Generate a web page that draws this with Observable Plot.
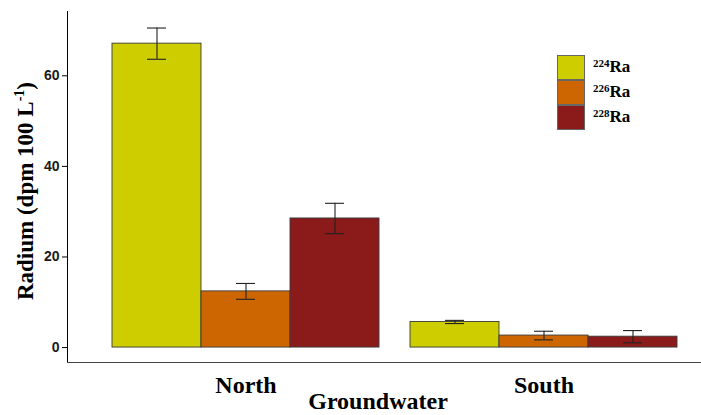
<!DOCTYPE html>
<html>
<head>
<meta charset="utf-8">
<script src="https://cdn.jsdelivr.net/npm/d3@7"></script>
<script src="https://cdn.jsdelivr.net/npm/@observablehq/plot@0.6"></script>
<style>
  body { margin: 0; background: #fff; }
  #wrap { position: relative; width: 701px; height: 415px; overflow: hidden; background: #fff; }
  #wrap svg { position: absolute; left: 0; top: 0; }
  g[aria-label="y-axis tick label"] { font-family: "Liberation Sans", Arial, sans-serif; font-weight: bold; font-size: 14px; fill: #1a1a1a; }
  g[aria-label="y-axis tick"] { stroke: #555; }
  .ytitle { position: absolute; left: 26px; top: 191px; transform: translate(-50%, -50%) rotate(-90deg);
            white-space: nowrap; font: bold 23px "Liberation Serif", "Times New Roman", serif; color: #000; }
  .ytitle sup { font-size: 14px; vertical-align: 9px; line-height: 0; }
  .xtitle { position: absolute; left: 378px; top: 389px; transform: translateX(-50%);
            white-space: nowrap; font: bold 24px/1 "Liberation Serif", "Times New Roman", serif; color: #000; }
  .legend { position: absolute; left: 557px; top: 55px; }
  .legend .row { position: relative; height: 25px; }
  .legend .key { position: absolute; left: 0; top: 0; width: 28px; height: 25px; box-sizing: border-box; border: 1px solid #666; }
  .legend .lab { position: absolute; left: 36px; top: 3px; white-space: nowrap; font: bold 17px/1 "Liberation Serif", "Times New Roman", serif; color: #000; }
  .legend .lab sup { font-size: 11px; vertical-align: 5px; line-height: 0; }
</style>
</head>
<body>
<div id="wrap"></div>
<script>
// ---- data ----
const groups = ["North", "South"];
const isotopes = ["224Ra", "226Ra", "228Ra"];
const isotopeMass = ["224", "226", "228"];
const northMean = [67.1, 12.4, 28.5];
const northErr = [3.45, 1.75, 3.35];
const southMean = [5.65, 2.65, 2.4];
const southErr = [0.35, 0.95, 1.35];
const colors = ["#CDCD00", "#CD6600", "#8B1A1A"];
const yTicks = [0, 20, 40, 60];
const yDomain = [-3.3, 74.2];
const yLabelText = "Radium (dpm 100 L";
const xLabelText = "Groundwater";

const rows = [];
isotopes.forEach((iso, i) => {
  rows.push({group: groups[0], isotope: iso, value: northMean[i], lo: northMean[i] - northErr[i], hi: northMean[i] + northErr[i]});
  rows.push({group: groups[1], isotope: iso, value: southMean[i], lo: southMean[i] - southErr[i], hi: southMean[i] + southErr[i]});
});

const chart = Plot.plot({
  width: 701,
  height: 415,
  marginTop: 11,
  marginBottom: 53,
  marginLeft: 67,
  marginRight: 38,
  style: {background: "white", overflow: "visible"},
  fx: {domain: groups, padding: 0, axis: null},
  x: {domain: isotopes, range: [111, 380], padding: 0, axis: null},
  y: {domain: yDomain, ticks: yTicks, tickSize: 5, tickPadding: 3, label: null, line: true},
  color: {domain: isotopes, range: colors},
  marks: [
    Plot.barY(rows, {fx: "group", x: "isotope", y: "value", fill: "isotope", stroke: "#3a3a3a", strokeWidth: 0.9}),
    Plot.ruleX(rows, {fx: "group", x: "isotope", y1: "lo", y2: "hi", stroke: "#222", strokeWidth: 1.1}),
    Plot.tickY(rows, {fx: "group", x: "isotope", y: "hi", stroke: "#222", strokeWidth: 1.1, insetLeft: 35, insetRight: 35}),
    Plot.tickY(rows, {fx: "group", x: "isotope", y: "lo", stroke: "#222", strokeWidth: 1.1, insetLeft: 35, insetRight: 35}),
    Plot.text(groups, {fx: d => d, x: () => isotopes[1], text: d => d, frameAnchor: "bottom", lineAnchor: "top", dy: 13,
      fontFamily: "Liberation Serif, Times New Roman, serif", fontWeight: "bold", fontSize: 24, fill: "#000"}),
    Plot.ruleY([yDomain[0]], {stroke: "#444", strokeWidth: 1.2, insetRight: -38})
  ]
});

const wrap = document.getElementById("wrap");
wrap.appendChild(chart);

const yt = document.createElement("div");
yt.className = "ytitle";
yt.innerHTML = yLabelText + "<sup>-1</sup>)";
wrap.appendChild(yt);

const xt = document.createElement("div");
xt.className = "xtitle";
xt.textContent = xLabelText;
wrap.appendChild(xt);

const legend = document.createElement("div");
legend.className = "legend";
isotopes.forEach((iso, i) => {
  const row = document.createElement("div");
  row.className = "row";
  const key = document.createElement("div");
  key.className = "key";
  key.style.background = colors[i];
  const lab = document.createElement("div");
  lab.className = "lab";
  lab.innerHTML = "<sup>" + isotopeMass[i] + "</sup>Ra";
  row.appendChild(key);
  row.appendChild(lab);
  legend.appendChild(row);
});
wrap.appendChild(legend);
</script>
</body>
</html>
